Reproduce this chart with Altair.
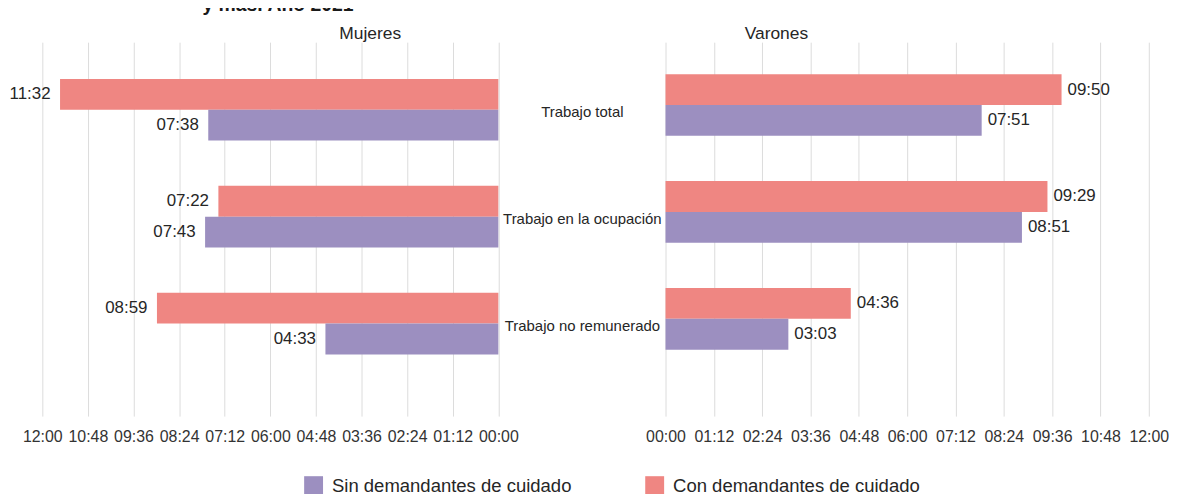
import altair as alt
import pandas as pd

categorias = ["Trabajo total", "Trabajo en la ocupación", "Trabajo no remunerado"]
series = ["Sin demandantes de cuidado", "Con demandantes de cuidado"]
mujeres_con = ["11:32", "07:22", "08:59"]
mujeres_sin = ["07:38", "07:43", "04:33"]
varones_con = ["09:50", "09:29", "04:36"]
varones_sin = ["07:51", "08:51", "03:03"]
tick_labels = ["00:00", "01:12", "02:24", "03:36", "04:48", "06:00",
               "07:12", "08:24", "09:36", "10:48", "12:00"]

RED = "#EF8682"
PURPLE = "#9C8FC0"
TXT = "#262626"
FONT = "Liberation Sans"


def to_min(s):
    h, m = s.split(":")
    return int(h) * 60 + int(m)


rows = []
for sexo, con, sin in [("Mujeres", mujeres_con, mujeres_sin),
                       ("Varones", varones_con, varones_sin)]:
    for cat, c, s in zip(categorias, con, sin):
        rows.append(dict(sexo=sexo, categoria=cat, serie=series[1],
                         minutos=to_min(c), etiqueta=c))
        rows.append(dict(sexo=sexo, categoria=cat, serie=series[0],
                         minutos=to_min(s), etiqueta=s))
df = pd.DataFrame(rows)
tick_vals = [to_min(t) for t in tick_labels]

label_expr = ("(datum.value < 600 ? '0' : '') + floor(datum.value / 60) + ':' + "
              "(datum.value % 60 < 10 ? '0' : '') + (datum.value % 60)")


def panel(sexo, width, reverse, align, title_dx, text_align, text_dx, y_axis, legend):
    base = alt.Chart(df).transform_filter(alt.datum.sexo == sexo)
    x = alt.X("minutos:Q",
              scale=alt.Scale(domain=[0, 720], reverse=reverse, nice=False, zero=True),
              axis=alt.Axis(values=tick_vals, labelExpr=label_expr, title=None,
                            domain=False, ticks=False, tickSize=0, grid=True,
                            gridColor="#DCDCDC", gridWidth=1, labelFontSize=16,
                            labelColor="#333333", labelPadding=13, labelFont=FONT,
                            labelFlush=False, labelOverlap=False))
    y = alt.Y("categoria:N", sort=categorias, title=None,
              scale=alt.Scale(paddingInner=0.4233, paddingOuter=0.4605, align=align),
              axis=y_axis)
    yoff = alt.YOffset("serie:N", sort=[series[1], series[0]])
    color = alt.Color("serie:N", scale=alt.Scale(domain=series, range=[PURPLE, RED]),
                      legend=legend)
    bars = base.mark_bar().encode(x=x, y=y, yOffset=yoff, color=color)
    text = base.mark_text(align=text_align, baseline="middle", dx=text_dx,
                          fontSize=17, color=TXT, font=FONT).encode(
        x=x, y=y, yOffset=yoff, text="etiqueta:N")
    return alt.layer(bars, text).properties(
        width=width, height=376,
        title=alt.TitleParams(sexo, fontSize=17.5, fontWeight="normal", font=FONT,
                              color=TXT, anchor="middle", dx=title_dx, offset=0))


left_axis = alt.Axis(orient="right", title=None, domain=False, ticks=False, tickSize=0,
                     labelAlign="center", labelPadding=84, labelFontSize=15,
                     labelColor=TXT, labelFont=FONT, labelLimit=0, grid=False,
                     labelOffset=2)
legend = alt.Legend(orient="none", legendX=263.3, legendY=436, direction="horizontal",
                    title=None, symbolType="square", symbolSize=361,
                    symbolStrokeWidth=0, labelFontSize=18.6, labelColor=TXT,
                    labelFont=FONT, labelOffset=9, labelLimit=0, columnPadding=74,
                    padding=0)

left = panel("Mujeres", 458.6, True, 0.3737, 100.5, "right", -9.5, left_axis, legend)
right = panel("Varones", 486, False, 0.325, -131.5, "left", 6, None, None)

chart = alt.hconcat(left, right, spacing=167.7, bounds="flush").resolve_scale(
    x="independent", y="independent", color="shared"
).properties(
    title=alt.TitleParams("y más. Año 2021", fontSize=19.5, fontWeight="bold",
                          font=FONT, color="#1a1a1a", anchor="start", frame="group",
                          dx=161, offset=9),
    padding={"left": 1.5, "top": -14, "right": 0, "bottom": 0},
).configure_view(stroke=None)

chart.save("out.html", embed_options={"renderer": "svg", "actions": False})
